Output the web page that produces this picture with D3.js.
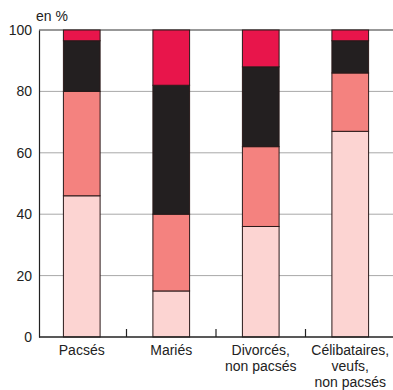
<!DOCTYPE html>
<html><head><meta charset="utf-8">
<script src="https://cdn.jsdelivr.net/npm/d3@7"></script>
<style>html,body{margin:0;padding:0;background:#fff;}svg{display:block;}</style>
</head><body>
<script>
const categories = [["Pacsés"], ["Mariés"], ["Divorcés,", "non pacsés"], ["Célibataires,", "veufs,", "non pacsés"]];
const seriesNames = ["s1", "s2", "s3", "s4"];
const s1 = [46, 15, 36, 67];
const s2 = [34, 25, 26, 19];
const s3 = [16.5, 42, 26, 10.5];
const s4 = [3.5, 18, 12, 3.5];
const yTicks = [0, 20, 40, 60, 80, 100];
const unitLabel = "en %";
const colors = ["#fcd4d2", "#f4827f", "#231f20", "#e8154b"];

const W = 393, H = 390;
const svg = d3.select("body").append("svg").attr("width", W).attr("height", H);
const font = "'Liberation Sans', Arial, sans-serif";

const x = d3.scaleBand().domain(d3.range(categories.length)).range([37, 395]).paddingInner(0.59).paddingOuter(0.295);
const y = d3.scaleLinear().domain([0, 100]).range([337, 30]);

// grid lines
svg.append("g").selectAll("line").data(yTicks.filter(t => t > 0 && t < 100)).join("line")
  .attr("x1", 39).attr("x2", W).attr("y1", d => y(d)).attr("y2", d => y(d))
  .attr("stroke", "#a8a8a8").attr("stroke-width", 1);
svg.append("line").attr("x1", 39).attr("x2", W).attr("y1", y(100)).attr("y2", y(100))
  .attr("stroke", "#333").attr("stroke-width", 1.2);

// stacked bars
const rows = categories.map((c, i) => ({i, s1: s1[i], s2: s2[i], s3: s3[i], s4: s4[i]}));
const stack = d3.stack().keys(seriesNames)(rows);
svg.append("g").selectAll("g").data(stack).join("g").attr("fill", (d, k) => colors[k])
  .selectAll("rect").data(d => d).join("rect")
  .attr("x", d => x(d.data.i)).attr("width", x.bandwidth())
  .attr("y", d => y(d[1])).attr("height", d => y(d[0]) - y(d[1]))
  .attr("stroke", "#2a1a1a").attr("stroke-width", 1);

// axes
const yAxis = d3.axisLeft(y).tickValues(yTicks).tickSize(0).tickPadding(7);
const ga = svg.append("g").attr("transform", "translate(39,0)").call(yAxis);
ga.select(".domain").attr("stroke", "#222").attr("stroke-width", 1.2);
ga.selectAll("text").attr("font-family", font).attr("font-size", 14).attr("fill", "#222");

const xAxis = d3.axisBottom(x).tickSize(0).tickFormat("");
const gx = svg.append("g").attr("transform", "translate(0,337)").call(xAxis);
gx.select(".domain").remove();
svg.append("line").attr("x1", 39).attr("x2", W).attr("y1", 337).attr("y2", 337).attr("stroke", "#222").attr("stroke-width", 1.4);

// separator ticks
const seps = d3.range(1, categories.length).map(i => x(i) - x.step() * x.paddingInner() / 2);
svg.append("g").selectAll("line").data(seps).join("line")
  .attr("x1", d => d).attr("x2", d => d).attr("y1", 337).attr("y2", 329)
  .attr("stroke", "#222").attr("stroke-width", 1.2);

// category labels
const lab = svg.append("g").selectAll("text").data(categories).join("text")
  .attr("font-family", font).attr("font-size", 14).attr("fill", "#222").attr("text-anchor", "middle");
lab.each(function(d, i) {
  d3.select(this).selectAll("tspan").data(d).join("tspan")
    .attr("x", x(i) + x.bandwidth() / 2).attr("y", (t, j) => 355 + j * 16).text(t => t);
});

svg.append("text").attr("x", 36).attr("y", 21).attr("font-family", font).attr("font-size", 14)
  .attr("fill", "#222").text(unitLabel);
</script>
</body></html>
